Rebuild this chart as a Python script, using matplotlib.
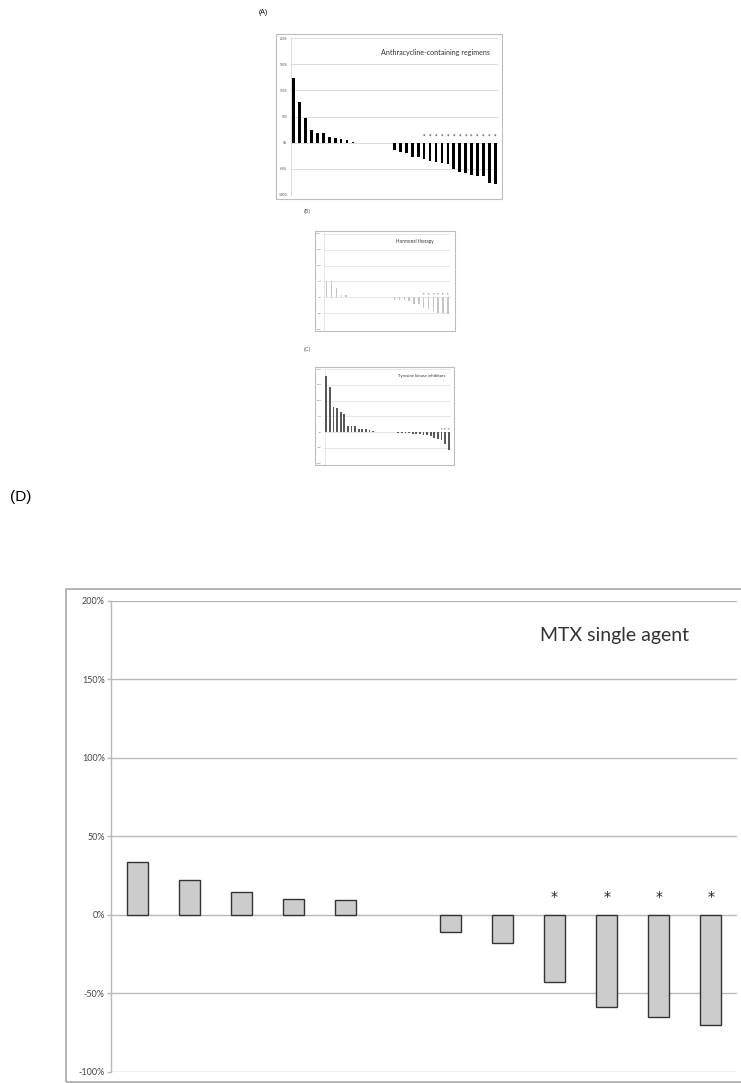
import matplotlib
matplotlib.use("Agg")
import matplotlib.pyplot as plt
from matplotlib.patches import Rectangle

W, H = 741, 1083

# ---------------- data ----------------
tick_values = [-100, -50, 0, 50, 100, 150, 200]
tick_labels = ["-100%", "-50%", "0%", "50%", "100%", "150%", "200%"]

a_title = "Anthracycline-containing regimens"
a_values = [124, 78, 47, 25, 19, 19, 11, 8, 7, 4, 1.5, 0, 0, 0, 0, -1, -1,
            -15, -18.5, -20, -27, -28, -31, -36, -38, -38.5, -42, -50, -57,
            -58, -62, -64, -65, -78, -79]
a_star = [0] * 22 + [1] * 13

b_title = "Hormonal therapy"
b_values = [50, 50, 29, 8.5, 6, 2, 1, 1, 0, 0, 0, 0, 0, 0,
            -9, -9, -9, -12, -20, -22, -34, -36, -43, -49, -51, -54]
b_star = [0] * 20 + [1] * 6

c_title = "Tyrosine kinase inhibitors"
c_values = [177, 143, 80, 76, 65, 58, 21, 18, 18, 10, 10, 10, 7, 3, 2,
            0, 0, 0, 0, 0,
            -3, -3, -4, -4, -5, -6, -7, -8, -9, -11, -18, -23, -26, -39, -56]
c_star = [0] * 32 + [1] * 3

d_title = "MTX single agent"
d_values = [33.6, 22.3, 14.6, 10, 9.3, 0, -11.2, -18, -43.2, -58.7, -65.5, -70.1]
d_star = [0] * 8 + [1] * 4

panel_labels = ["(A)", "(B)", "(C)", "(D)"]

# ---------------- figure ----------------
fig = plt.figure(figsize=(W / 100, H / 100), dpi=100)
fig.patch.set_facecolor("white")


def px_axes(l, t, r, b):
    return fig.add_axes([l / W, 1 - b / H, (r - l) / W, (b - t) / H])


def frame(l, t, r, b, color="#bdbdbd", lw=0.8):
    fig.add_artist(Rectangle((l / W, 1 - b / H), (r - l) / W, (b - t) / H,
                             transform=fig.transFigure, fill=False,
                             edgecolor=color, linewidth=lw, clip_on=False))


def panel(ax, values, stars, color, width, edge, elw, title, tfs, tx, ty,
          lfs, star_y, sfs, grid_lw, grid_color, tick_len):
    n = len(values)
    x = list(range(n))
    ax.set_xlim(-0.5, n - 0.5)
    ax.set_ylim(-100, 200)
    ax.set_yticks(tick_values)
    ax.set_yticklabels(tick_labels)
    ax.yaxis.grid(True, color=grid_color, linewidth=grid_lw)
    ax.set_axisbelow(True)
    lws = [elw if v != 0 else 0 for v in values]
    ax.bar(x, values, width=width, color=color, edgecolor=edge,
           linewidth=lws, zorder=3)
    for i, s in enumerate(stars):
        if s:
            ax.text(i, star_y, "*", ha="center", va="center",
                    fontsize=sfs, color="#222222", zorder=4)
    ax.set_xticks([])
    for sp in ["top", "right", "bottom"]:
        ax.spines[sp].set_visible(False)
    ax.spines["left"].set_color(grid_color)
    ax.spines["left"].set_linewidth(grid_lw)
    ax.tick_params(axis="y", length=tick_len, width=grid_lw, color=grid_color,
                   labelsize=lfs, labelcolor="#444444", pad=1.5)
    for lab in ax.get_yticklabels():
        lab.set_family("Lato")
    fig.text(tx / W, 1 - ty / H, title, ha="left", va="center",
             fontsize=tfs, family="Lato", color="#333333")


# ----- Panel A -----
fig.text(263 / W, 1 - 12 / H, panel_labels[0], ha="center", va="center",
         fontsize=5, family="Liberation Sans")
frame(275.5, 34, 502, 198.5)
axA = px_axes(290.7, 38.3, 498.3, 194.7)
panel(axA, a_values, a_star, "black", 0.45, "none", 0, a_title, 5.1, 381, 52,
      2.2, 13, 3.5, 0.5, "#cfcfcf", 1)

# ----- Panel B -----
fig.text(307.3 / W, 1 - 211.7 / H, panel_labels[1], ha="center", va="center",
         fontsize=3.8, family="Liberation Sans", color="#555555")
frame(315, 231, 455, 331)
axB = px_axes(324.3, 234, 450.3, 329)
panel(axB, b_values, b_star, "#c4c4c4", 0.3, "none", 0, b_title, 3.3, 396.5,
      242, 1.4, 10, 2.5, 0.4, "#d4d4d4", 0.7)

# ----- Panel C -----
fig.text(307.3 / W, 1 - 350 / H, panel_labels[2], ha="center", va="center",
         fontsize=3.8, family="Liberation Sans", color="#555555")
frame(315, 366.7, 454, 465)
axC = px_axes(324.5, 369, 450.5, 463.7)
panel(axC, c_values, c_star, "#595959", 0.5, "none", 0, c_title, 3.1, 398,
      376, 1.4, 8.5, 2.5, 0.4, "#d4d4d4", 0.7)

# ----- Panel D -----
fig.text(21 / W, 1 - 497 / H, panel_labels[3], ha="center", va="center",
         fontsize=11, family="Liberation Sans")
frame(65.5, 589, 760, 1081.5, color="#a8a8a8", lw=1.2)
axD = px_axes(111, 600.7, 737, 1071.5)
panel(axD, d_values, d_star, "#cccccc", 0.4, "#333333", 1.0, d_title, 14,
      540, 636, 6.5, 11.5, 10, 1.0, "#b8b8b8", 3)

fig.savefig("out.png", dpi=100, facecolor="white")
